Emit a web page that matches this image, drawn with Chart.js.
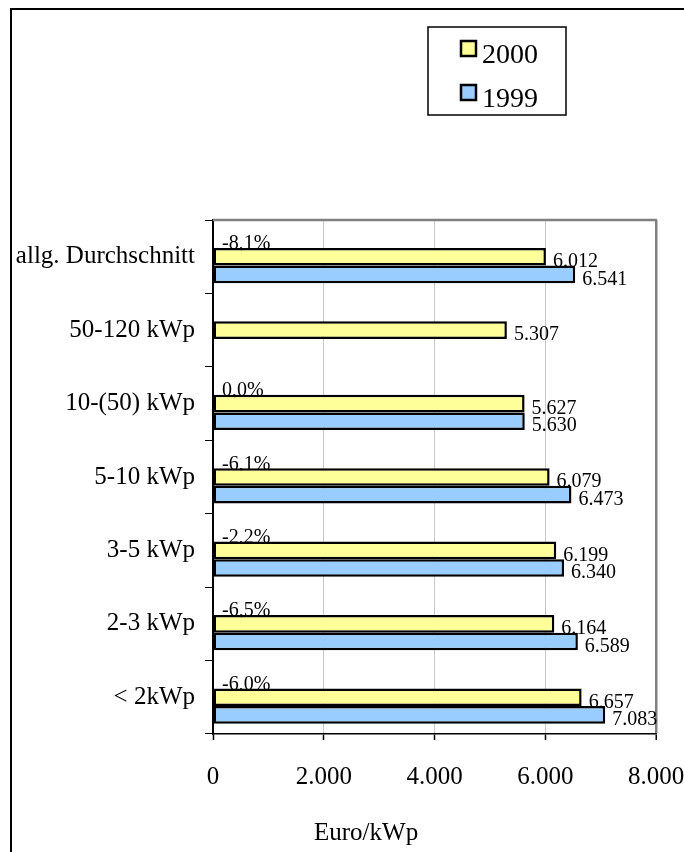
<!DOCTYPE html>
<html>
<head>
<meta charset="utf-8">
<script src="https://cdn.jsdelivr.net/npm/chart.js@4/dist/chart.umd.min.js"></script>
<style>
  html, body { margin: 0; padding: 0; background: #fff; }
  body { width: 684px; height: 852px; position: relative; overflow: hidden; }
  .frame { position: absolute; left: 10px; top: 8px; width: 800px; height: 900px; border-top: 2px solid #000; border-left: 2px solid #000; }
  canvas { position: absolute; left: 0; top: 0; }
</style>
</head>
<body>
<div class="frame"></div>
<canvas id="chart" width="684" height="852"></canvas>
<script>
// --- DATA --- //
const categories = ['allg. Durchschnitt', '50-120 kWp', '10-(50) kWp', '5-10 kWp', '3-5 kWp', '2-3 kWp', '< 2kWp'];
const values2000 = [6012, 5307, 5627, 6079, 6199, 6164, 6657];
const values1999 = [6541, null, 5630, 6473, 6340, 6589, 7083];
const changeLabels = ['-8,1%', null, '0,0%', '-6,1%', '-2,2%', '-6,5%', '-6,0%'];
const xTicks = [0, 2000, 4000, 6000, 8000];
const axisTitle = 'Euro/kWp';

const serif = "'Liberation Serif', 'Times New Roman', serif";

// 6012 -> "6.012"
function fmt(v) {
  return String(v).replace(/\B(?=(\d{3})+(?!\d))/g, '.');
}

// --- LABELS ON BARS --- //
// drawn before the bars so the next bar covers the lower edge of the text
const barLabels = {
  id: 'barLabels',
  beforeDatasetsDraw(chart) {
    const ctx = chart.ctx;
    ctx.save();
    ctx.font = '20px ' + serif;
    ctx.fillStyle = '#000';
    ctx.textAlign = 'left';
    ctx.textBaseline = 'middle';
    chart.data.datasets.forEach((ds, di) => {
      const meta = chart.getDatasetMeta(di);
      meta.data.forEach((bar, i) => {
        if (ds.data[i] === null || ds.data[i] === undefined) return;
        if (di === 0) {
          ctx.fillText(changeLabels[i], bar.x + 9, bar.y + 5);
        } else {
          ctx.fillText(fmt(ds.data[i]), bar.x + 7, bar.y + 5);
        }
      });
    });
    // top edge of the plot frame
    const a = chart.chartArea;
    ctx.strokeStyle = '#808080';
    ctx.lineWidth = 2.5;
    ctx.beginPath();
    ctx.moveTo(a.left, a.top);
    ctx.lineTo(a.right + 1, a.top);
    ctx.stroke();
    ctx.restore();
  }
};

// --- LEGEND BOX + AXIS TITLE --- //
const boxLegend = {
  id: 'boxLegend',
  afterDraw(chart) {
    const ctx = chart.ctx;
    ctx.save();
    ctx.strokeStyle = '#000';
    ctx.lineWidth = 1.5;
    ctx.strokeRect(428, 27, 138, 88);

    const items = [chart.data.datasets[1], chart.data.datasets[2]];
    items.forEach((ds, k) => {
      const y = 40 + k * 44;
      ctx.fillStyle = ds.backgroundColor;
      ctx.fillRect(460, y, 17, 17);
      ctx.lineWidth = 2.5;
      ctx.strokeStyle = '#000';
      ctx.strokeRect(461, y + 1, 15, 15);
      ctx.fillStyle = '#000';
      ctx.font = '28px ' + serif;
      ctx.textBaseline = 'alphabetic';
      ctx.textAlign = 'left';
      ctx.fillText(ds.label, 482, y + 23);
    });

    ctx.font = '25px ' + serif;
    ctx.fillText(axisTitle, 314, 840);
    ctx.restore();
  }
};

const chartEl = document.getElementById('chart');

const myChart = new Chart(chartEl, {
  type: 'bar',
  data: {
    labels: categories,
    datasets: [
      {
        label: 'Veränderung',
        data: changeLabels.map(l => (l === null ? null : 0)),
        backgroundColor: 'rgba(0,0,0,0)',
        borderWidth: 0
      },
      {
        label: '2000',
        data: values2000,
        backgroundColor: '#FFFF99',
        borderColor: '#000',
        borderWidth: 2.5,
        borderSkipped: false
      },
      {
        label: '1999',
        data: values1999,
        backgroundColor: '#99CCFF',
        borderColor: '#000',
        borderWidth: 2.5,
        borderSkipped: false
      }
    ]
  },
  options: {
    indexAxis: 'y',
    responsive: false,
    animation: false,
    categoryPercentage: 0.72,
    barPercentage: 1,
    layout: {
      padding: { top: 220, right: 28, bottom: 0, left: 0 }
    },
    scales: {
      x: {
        min: 0,
        max: 8000,
        afterBuildTicks: scale => {
          scale.ticks = xTicks.map(v => ({ value: v }));
        },
        afterFit: scale => {
          scale.height = 118;
          scale.paddingLeft = 0;
          scale.paddingRight = 0;
        },
        grid: {
          color: c => (c.tick.value === 8000 ? '#808080' : c.tick.value === 0 ? '#000' : '#c8c8c8'),
          lineWidth: c => (c.tick.value === 8000 ? 2.5 : 1),
          tickColor: '#000',
          tickWidth: 1.5,
          tickLength: 6
        },
        border: { color: '#000', width: 1.5 },
        ticks: {
          color: '#000',
          padding: 22,
          font: { family: serif, size: 25 },
          callback: v => fmt(v)
        }
      },
      y: {
        afterFit: scale => {
          scale.width = 213;
          scale.paddingTop = 0;
          scale.paddingBottom = 0;
        },
        grid: {
          drawOnChartArea: false,
          color: '#000',
          tickLength: 8,
          offset: true
        },
        border: { color: '#000', width: 1.5 },
        ticks: {
          color: '#000',
          padding: 10,
          font: { family: serif, size: 25 }
        }
      }
    },
    plugins: {
      legend: { display: false },
      tooltip: { enabled: false }
    }
  },
  plugins: [barLabels, boxLegend]
});
</script>
</body>
</html>
